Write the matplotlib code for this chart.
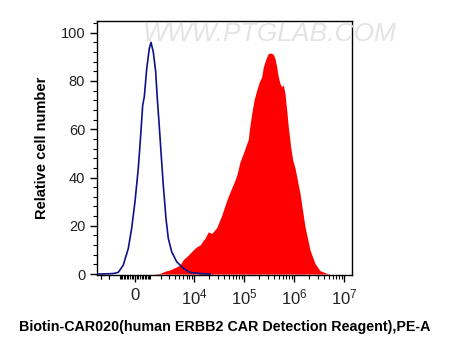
import matplotlib
matplotlib.use("Agg")
import matplotlib.pyplot as plt
import numpy as np

plt.rcParams['font.family'] = ['Liberation Sans', 'DejaVu Sans']
plt.rcParams['mathtext.default'] = 'regular'

# %% Data (x in display channels 0-255, y = relative cell number)

# isotype / unstained control (blue outline)
ctrl_x = [0, 3, 16.3, 21.3, 26.3, 31.3, 34.7, 38, 41.3, 43.7, 45.7, 47.3, 49.7,
          52.3, 54, 56.3, 58.7, 60.3, 62, 64, 66.3, 69, 71.3, 74.7, 79.7, 86.3,
          93, 103, 113]
ctrl_y = [0, 0, 0.2, 0.7, 3.7, 10.6, 19, 30, 43.8, 57.5, 70, 73.4, 85,
          93.4, 96, 92, 83.8, 72.7, 63, 50.6, 36.8, 23, 14.8, 9.2, 5.1, 2.4,
          0.7, 0.2, 0]

# stained sample (red filled)
samp_x = [56.3, 63, 69.7, 73, 79.7, 83, 86.3, 89.7, 93, 96.3, 99.7, 103, 106.3,
          108, 111.3, 114.7, 119.7, 124.7, 129.7, 134.7, 138, 140.3, 143, 146.3,
          149.7, 151.3, 152.3, 154.7, 157, 159.7, 162.3, 164.7, 166.3, 169,
          171.3, 173.7, 176.3, 178, 179.7, 181.3, 183, 184.7, 186.3, 188, 189.7,
          191.3, 193.7, 195.7, 198, 203, 208, 213, 218, 223, 229.7, 233]
samp_y = [0, 0.3, 1.4, 1.7, 3, 3.7, 6.0, 7.2, 8.6, 10, 11.3, 12, 14,
          14.8, 17.5, 16.8, 19.2, 24.3, 30.5, 35.7, 38.9, 41.7, 46.5, 50,
          54, 55.8, 59.6, 66.5, 72, 76.2, 79.6, 81.7, 85.8, 89.3,
          91.4, 91.6, 91.1, 89.3, 85.8, 81.7, 79, 77.6, 78.3, 74.8, 67.9,
          61, 52.7, 47.2, 44, 33.4, 19.6, 10, 4.4, 1.4, 0.3, 0]

major_vals = [0, 1e4, 1e5, 1e6, 1e7]
major_labels = ['0', '$10^4$', '$10^5$', '$10^6$', '$10^7$']


# biexponential-like display: channel position of a fluorescence value
def chan(v):
    return 38 + 21.7 * np.arcsinh(np.asarray(v, dtype=float) / 1310)


minor_vals = []
for d in [100, 1000]:
    for m in range(1, 10):
        minor_vals += [m * d, -m * d]
for d in [1e4, 1e5, 1e6]:
    for m in range(2, 10):
        minor_vals.append(m * d)
minor_vals += [-2000, -3000, -4000]
minor_pos = [p for p in chan(minor_vals) if 0 <= p <= 255]

# %% Plot

fig = plt.figure(figsize=(4.49, 3.56), dpi=100)
ax = fig.add_axes([0.216, 0.2275, 0.568, 0.7145])

ax.fill_between(samp_x, samp_y, 0, color='#ff0000', linewidth=0)
ax.plot(ctrl_x, ctrl_y, color='#10108a', linewidth=1.2)

ax.set_xlim(0, 255)
ax.set_ylim(-0.4, 105)

ax.set_xticks(chan(major_vals))
ax.set_xticklabels(major_labels)
ax.set_xticks(minor_pos, minor=True)
ax.set_yticks([0, 20, 40, 60, 80, 100])
ax.set_yticks(np.arange(0, 105, 4), minor=True)

ax.tick_params(axis='both', which='major', length=5, width=1, labelsize=10.5,
               labelcolor='#222222')
ax.tick_params(axis='x', which='major', labelsize=12, pad=4)
ax.tick_params(axis='both', which='minor', length=3, width=0.8)
for s in ax.spines.values():
    s.set_linewidth(1)

ax.set_ylabel('Relative cell number', fontsize=10.5, fontweight='bold', labelpad=8)
fig.text(0.5, 0.082, 'Biotin-CAR020(human ERBB2 CAR Detection Reagent),PE-A',
         ha='center', va='center', fontsize=10.25, fontweight='bold')

# watermark
fig.text(0.318, 0.905, 'WWW.PTGLAB.COM', fontsize=19, color='#e4e4e4',
         style='italic', ha='left', va='center')

fig.savefig('out.png', dpi=100)
